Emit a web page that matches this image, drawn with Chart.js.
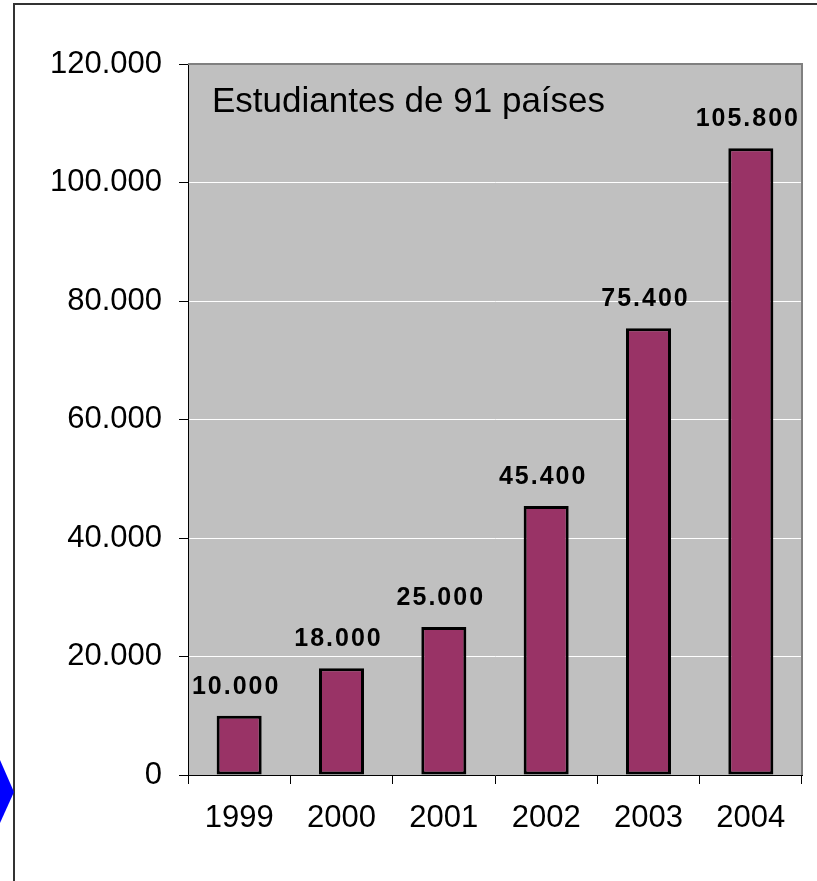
<!DOCTYPE html>
<html>
<head>
<meta charset="utf-8">
<script src="https://cdn.jsdelivr.net/npm/chart.js@4/dist/chart.umd.min.js"></script>
<style>
  html, body { margin: 0; padding: 0; background: #fff; }
  #wrap { width: 817px; height: 881px; }
</style>
</head>
<body>
<div id="wrap"><canvas id="students" width="817" height="881"></canvas></div>
<script>
// enrolment per year
const years = ['1999', '2000', '2001', '2002', '2003', '2004'];
const students = [10000, 18000, 25000, 45400, 75400, 105800];
const yTicks = [0, 20000, 40000, 60000, 80000, 100000, 120000];
const boxLabel = 'Estudiantes de 91 países';

const FONT = '"Liberation Sans", Arial, sans-serif';

// 120000 -> "120.000"
function fmt(v) {
  return String(v).replace(/\B(?=(\d{3})+(?!\d))/g, '.');
}

// gray plot background, outer frame, value labels, caption
const plotDecor = {
  id: 'plotDecor',
  beforeDraw(chart) {
    const ctx = chart.ctx, a = chart.chartArea;
    ctx.save();
    ctx.fillStyle = '#fff';
    ctx.fillRect(0, 0, chart.width, chart.height);

    // slide frame
    ctx.strokeStyle = '#333';
    ctx.lineWidth = 2;
    ctx.beginPath();
    ctx.moveTo(14, chart.height);
    ctx.lineTo(14, 4);
    ctx.lineTo(chart.width, 4);
    ctx.stroke();

    // blue arrow tip on the left edge
    ctx.fillStyle = '#0000ff';
    ctx.beginPath();
    ctx.moveTo(0, 760);
    ctx.lineTo(14, 792);
    ctx.lineTo(0, 823);
    ctx.closePath();
    ctx.fill();

    ctx.fillStyle = '#c0c0c0';
    ctx.fillRect(a.left, a.top, a.right - a.left, a.bottom - a.top);
    ctx.restore();
  },
  afterDatasetsDraw(chart) {
    const ctx = chart.ctx, a = chart.chartArea;
    ctx.save();

    ctx.strokeStyle = '#808080';
    ctx.lineWidth = 2;
    ctx.beginPath();
    ctx.moveTo(a.left, a.top);
    ctx.lineTo(a.right, a.top);
    ctx.lineTo(a.right, a.bottom);
    ctx.stroke();

    // value labels above the bars
    ctx.fillStyle = '#000';
    ctx.font = 'bold 25px ' + FONT;
    ctx.letterSpacing = '2px';
    ctx.textAlign = 'center';
    ctx.textBaseline = 'alphabetic';
    chart.getDatasetMeta(0).data.forEach((bar, i) => {
      ctx.fillText(fmt(students[i]), bar.x - 3, bar.y - 22);
    });

    ctx.letterSpacing = '0px';
    ctx.font = '35px ' + FONT;
    ctx.textAlign = 'left';
    ctx.fillText(boxLabel, a.left + 24, 112);
    ctx.restore();
  }
};

new Chart(document.getElementById('students'), {
  type: 'bar',
  data: {
    labels: years,
    datasets: [{
      data: students,
      backgroundColor: '#993366',
      borderColor: '#000',
      borderWidth: 3,
      borderSkipped: false,
      barPercentage: 0.44,
      categoryPercentage: 1
    }]
  },
  options: {
    responsive: false,
    devicePixelRatio: 1,
    animation: false,
    layout: { padding: { top: 64, right: 15, left: 0, bottom: 0 } },
    plugins: {
      legend: { display: false },
      tooltip: { enabled: false }
    },
    scales: {
      x: {
        offset: true,
        grid: {
          offset: true,
          drawOnChartArea: false,
          tickLength: 9,
          tickColor: '#000',
          color: '#000'
        },
        border: { color: '#000', width: 1 },
        ticks: { color: '#000', font: { family: FONT, size: 31 }, padding: 16 },
        afterFit(s) { s.height = 106; }
      },
      y: {
        min: 0,
        max: 120000,
        afterBuildTicks(s) { s.ticks = yTicks.map(v => ({ value: v })); },
        grid: {
          color: '#fff',
          lineWidth: 1,
          tickLength: 9,
          tickColor: '#000'
        },
        border: { color: '#000', width: 1 },
        ticks: {
          color: '#000',
          font: { family: FONT, size: 31 },
          padding: 17,
          callback: v => fmt(v)
        },
        afterFit(s) { s.width = 188; }
      }
    }
  },
  plugins: [plotDecor]
});
</script>
</body>
</html>
